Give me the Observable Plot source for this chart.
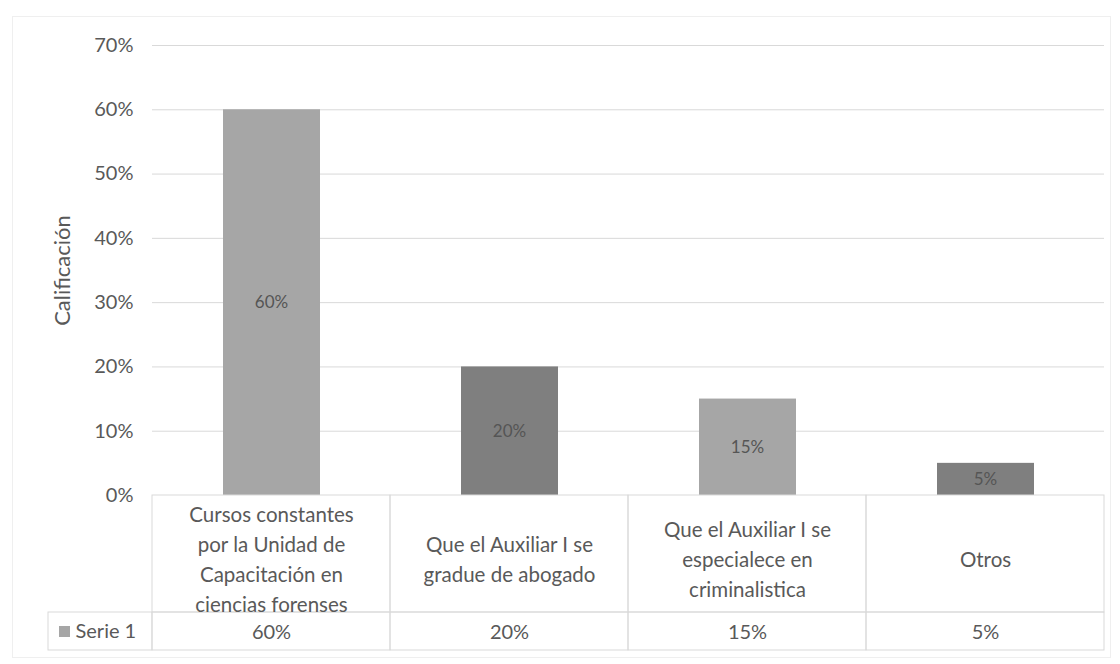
<!DOCTYPE html>
<html>
<head>
<meta charset="utf-8">
<script src="https://cdn.jsdelivr.net/npm/d3@7"></script>
<script src="https://cdn.jsdelivr.net/npm/@observablehq/plot@0.6"></script>
<style>
  html, body { margin: 0; padding: 0; background: #fff; }
  #wrap { position: relative; width: 1120px; height: 664px; }
  #border { position: absolute; left: 12px; top: 16px; width: 1097px; height: 640px; border: 1px solid #efefef; pointer-events: none; }
</style>
</head>
<body>
<div id="wrap"><div id="border"></div><div id="chart"></div></div>
<script>
const categories = [
  "Cursos constantes por la Unidad de Capacitación en ciencias forenses",
  "Que el Auxiliar I se gradue de abogado",
  "Que el Auxiliar I se especialece en criminalistica",
  "Otros"
];
const categoryLines = [
  "Cursos constantes\npor la Unidad de\nCapacitación en\nciencias forenses",
  "Que el Auxiliar I se\ngradue de abogado",
  "Que el Auxiliar I se\nespecialece en\ncriminalistica",
  "Otros"
];
const values = [0.60, 0.20, 0.15, 0.05];
const barColors = ["#a6a6a6", "#7f7f7f", "#a6a6a6", "#7f7f7f"];
const yTicks = [0, 0.1, 0.2, 0.3, 0.4, 0.5, 0.6, 0.7];
const seriesName = "Serie 1";
const yLabel = "Calificación";

const data = categories.map((c, i) => ({cat: c, lines: categoryLines[i], value: values[i]}));
const pct = d3.format(".0%");
const txt = "#595959";
const gridColor = "#d9d9d9";

const chart = Plot.plot({
  width: 1120,
  height: 664,
  marginTop: 45,
  marginBottom: 169,
  marginLeft: 152,
  marginRight: 16,
  style: {fontFamily: "Lato, 'Open Sans', sans-serif", color: txt, background: "transparent"},
  x: {domain: categories, padding: 0, axis: null},
  y: {domain: [0, 0.7], axis: null},
  color: {domain: categories, range: barColors},
  marks: [
    Plot.ruleY(yTicks.filter(t => t > 0), {stroke: gridColor, strokeWidth: 1}),
    Plot.axisY(yTicks, {tickSize: 0, tickPadding: 19, tickFormat: pct, fontSize: 20, fill: txt, label: null}),
    Plot.text([yLabel], {frameAnchor: "left", textAnchor: "middle", dx: -90, rotate: -90, fontSize: 22, fill: txt}),
    Plot.barY(data, {x: "cat", y: "value", fill: "cat", insetLeft: 71, insetRight: 70}),
    Plot.text(data, {x: "cat", y: d => d.value / 2, text: d => pct(d.value), fill: "#555555", fontSize: 17}),
    // data table: category row
    Plot.barY(data, {x: "cat", y1: () => 0, y2: () => 0, insetTop: 0, insetBottom: -117, fill: "none", stroke: gridColor}),
    // data table: value row
    Plot.barY(data, {x: "cat", y1: () => 0, y2: () => 0, insetTop: 117, insetBottom: -155, fill: "none", stroke: gridColor}),
    // legend cell of the table
    Plot.barY([data[0]], {x: "cat", y1: () => 0, y2: () => 0, insetTop: 117, insetBottom: -155, insetLeft: -104, insetRight: 238, fill: "none", stroke: gridColor}),
    Plot.text(data, {x: "cat", y: () => 0, text: "lines", dy: 62, lineAnchor: "middle", lineHeight: 1.45, fontSize: 20.5, fill: txt}),
    Plot.text(data, {x: "cat", y: () => 0, text: d => pct(d.value), dy: 137, fontSize: 20, fill: txt}),
    Plot.dot([data[0]], {x: "cat", y: () => 0, dx: -207, dy: 136, symbol: "square", r: 6.2, fill: barColors[0]}),
    Plot.text([data[0]], {x: "cat", y: () => 0, text: () => seriesName, dx: -196, dy: 136, textAnchor: "start", fontSize: 20, fill: txt})
  ]
});
document.getElementById("chart").appendChild(chart);
</script>
</body>
</html>
